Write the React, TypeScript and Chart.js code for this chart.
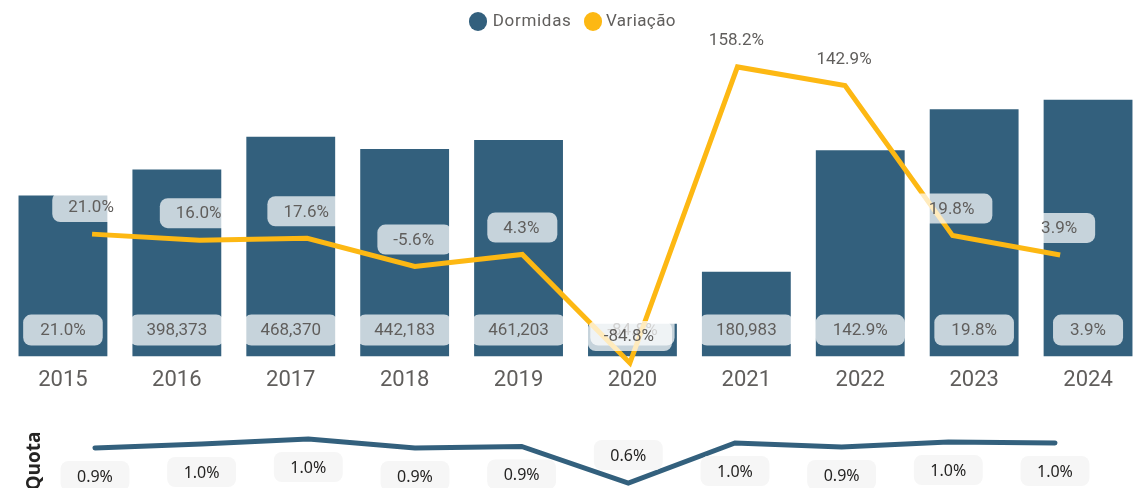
import React, { useEffect, useRef } from "react";
import { Chart, registerables } from "chart.js";

Chart.register(...registerables);

// ---- data ----
const years = ["2015", "2016", "2017", "2018", "2019", "2020", "2021", "2022", "2023", "2024"];
const dormidas = [343400, 398373, 468370, 442183, 461203, 70100, 180983, 439600, 526700, 547200];
const variacao = [21.0, 16.0, 17.6, -5.6, 4.3, -84.8, 158.2, 142.9, 19.8, 3.9];
const barLabels = ["21.0%", "398,373", "468,370", "442,183", "461,203", "-84.8%", "180,983", "142.9%", "19.8%", "3.9%"];
const quota = [0.926, 0.963, 1.009, 0.926, 0.94, 0.6, 0.972, 0.935, 0.981, 0.972];

// ---- style ----
const BAR = "#33607D";
const YELLOW = "#FDB813";
const TEXT = "#605E5C";
const DARK = "#252423";
const FONT = "Roboto";

function rrect(ctx: CanvasRenderingContext2D, x: number, y: number, w: number, h: number, r: number) {
  ctx.beginPath();
  const anyCtx = ctx as any;
  if (anyCtx.roundRect) {
    anyCtx.roundRect(x, y, w, h, r);
  } else {
    ctx.moveTo(x + r, y);
    ctx.arcTo(x + w, y, x + w, y + h, r);
    ctx.arcTo(x + w, y + h, x, y + h, r);
    ctx.arcTo(x, y + h, x, y, r);
    ctx.arcTo(x, y, x + w, y, r);
    ctx.closePath();
  }
}

const mainLabels = {
  id: "mainLabels",
  afterDatasetDraw(chart: any, args: any) {
    const ctx: CanvasRenderingContext2D = chart.ctx;
    const meta = args.meta;
    ctx.save();
    ctx.font = `17px ${FONT}`;
    ctx.textAlign = "center";
    ctx.textBaseline = "middle";
    if (meta.type === "bar") {
      meta.data.forEach((el: any, i: number) => {
        const text = barLabels[i];
        const w = ctx.measureText(text).width + 34;
        const cy = el.base - 26.5;
        ctx.fillStyle = "rgba(255,255,255,0.72)";
        rrect(ctx, el.x - w / 2, cy - 15.5, w, 31, 8);
        ctx.fill();
        ctx.fillStyle = TEXT;
        ctx.fillText(text, el.x, cy + 1);
      });
    } else if (meta.type === "line") {
      meta.data.forEach((el: any, i: number) => {
        const text = variacao[i].toFixed(1) + "%";
        const w = ctx.measureText(text).width + 34;
        const cy = el.y - 27;
        ctx.fillStyle = "rgba(255,255,255,0.72)";
        rrect(ctx, el.x - w / 2, cy - 15, w, 30, 8);
        ctx.fill();
        ctx.fillStyle = TEXT;
        ctx.fillText(text, el.x - 1, cy + 1);
      });
    }
    ctx.restore();
  },
};

const quotaLabels = {
  id: "quotaLabels",
  afterDatasetsDraw(chart: any) {
    const ctx: CanvasRenderingContext2D = chart.ctx;
    const meta = chart.getDatasetMeta(0);
    ctx.save();
    ctx.font = `16px "Noto Sans"`;
    ctx.textAlign = "center";
    ctx.textBaseline = "middle";
    meta.data.forEach((el: any, i: number) => {
      const text = quota[i].toFixed(1) + "%";
      const w = ctx.measureText(text).width + 33;
      const below = el.y + 28 < chart.height;
      const cy = below ? el.y + 28 : el.y - 28;
      ctx.fillStyle = "#F6F6F6";
      rrect(ctx, el.x - w / 2, cy - 15, w, 30, 8);
      ctx.fill();
      ctx.fillStyle = DARK;
      ctx.fillText(text, el.x, cy + 1);
    });
    ctx.restore();
  },
};

export default function App() {
  const mainRef = useRef<HTMLCanvasElement>(null);
  const quotaRef = useRef<HTMLCanvasElement>(null);

  useEffect(() => {
    Chart.defaults.font.family = FONT;
    const main = new Chart(mainRef.current!, {
      type: "bar",
      data: {
        labels: years,
        datasets: [
          {
            type: "line",
            label: "Variação",
            data: variacao.map((v, i) => ({ x: i, y: v })),
            borderColor: YELLOW,
            backgroundColor: YELLOW,
            borderWidth: 5,
            pointRadius: 0,
            tension: 0,
            clip: false as any,
            xAxisID: "x2",
            yAxisID: "y2",
            order: 0,
          } as any,
          {
            type: "bar",
            label: "Dormidas",
            data: dormidas,
            backgroundColor: BAR,
            barPercentage: 0.78,
            categoryPercentage: 1,
            grouped: false,
            xAxisID: "x",
            yAxisID: "y",
            order: 1,
          } as any,
        ],
      },
      options: {
        responsive: false,
        animation: false,
        devicePixelRatio: 1,
        layout: { padding: { left: 6, right: 0, top: 20, bottom: 0 } },
        plugins: { legend: { display: false }, tooltip: { enabled: false } },
        scales: {
          x: {
            type: "category",
            offset: true,
            grid: { display: false, drawTicks: false },
            border: { display: false },
            ticks: { color: TEXT, font: { size: 22, family: FONT }, padding: 11, autoSkip: false, maxRotation: 0 },
          },
          x2: { type: "linear", display: false, offset: false, grid: { offset: false }, min: -0.8, max: 9.789 },
          y: { type: "linear", display: false, min: 0, max: 717000 },
          y2: { type: "linear", display: false, min: -79.5, max: 196.7 },
        },
      } as any,
      plugins: [mainLabels],
    });

    const q = new Chart(quotaRef.current!, {
      type: "line",
      data: {
        datasets: [
          {
            label: "Quota",
            data: quota.map((v, i) => ({ x: i, y: v })),
            borderColor: BAR,
            borderWidth: 5,
            borderCapStyle: "round",
            pointRadius: 0,
            tension: 0,
            clip: false as any,
          } as any,
        ],
      },
      options: {
        responsive: false,
        animation: false,
        devicePixelRatio: 1,
        layout: { padding: { left: 6, right: 0, top: 25, bottom: 0 } },
        plugins: { legend: { display: false }, tooltip: { enabled: false } },
        scales: {
          x: { type: "linear", display: false, offset: false, min: -0.834, max: 9.844 },
          y: { type: "linear", display: false, min: 0.5535, max: 1.093 },
        },
      } as any,
      plugins: [quotaLabels],
    });

    return () => {
      main.destroy();
      q.destroy();
    };
  }, []);

  const legendText: React.CSSProperties = {
    position: "absolute",
    top: 10,
    font: `17px ${FONT}`,
    lineHeight: "20px",
    color: TEXT,
    whiteSpace: "nowrap",
  };
  const dot = (color: string, cx: number): React.CSSProperties => ({
    position: "absolute",
    left: cx - 9.2,
    top: 21.5 - 9.2,
    width: 18.4,
    height: 18.4,
    borderRadius: "50%",
    background: color,
  });

  return (
    <div style={{ position: "fixed", left: 0, top: 0, width: 1145, height: 488, background: "#fff", overflow: "hidden" }}>
      <canvas ref={mainRef} width={1145} height={405} style={{ position: "absolute", left: 0, top: 0 }} />
      <canvas ref={quotaRef} width={1145} height={83} style={{ position: "absolute", left: 0, top: 405 }} />
      <div style={dot(BAR, 477.7)} />
      <div style={{ ...legendText, left: 492.7, letterSpacing: "0.7px" }}>Dormidas</div>
      <div style={dot(YELLOW, 592.7)} />
      <div style={{ ...legendText, left: 606, letterSpacing: "0.4px" }}>Variação</div>
      <div
        style={{
          position: "absolute",
          left: 32 - 40,
          top: 461 - 12,
          width: 80,
          height: 24,
          lineHeight: "24px",
          textAlign: "center",
          transform: "rotate(-90deg)",
          font: `bold 19px "Open Sans"`,
          color: DARK,
        }}
      >
        Quota
      </div>
    </div>
  );
}
